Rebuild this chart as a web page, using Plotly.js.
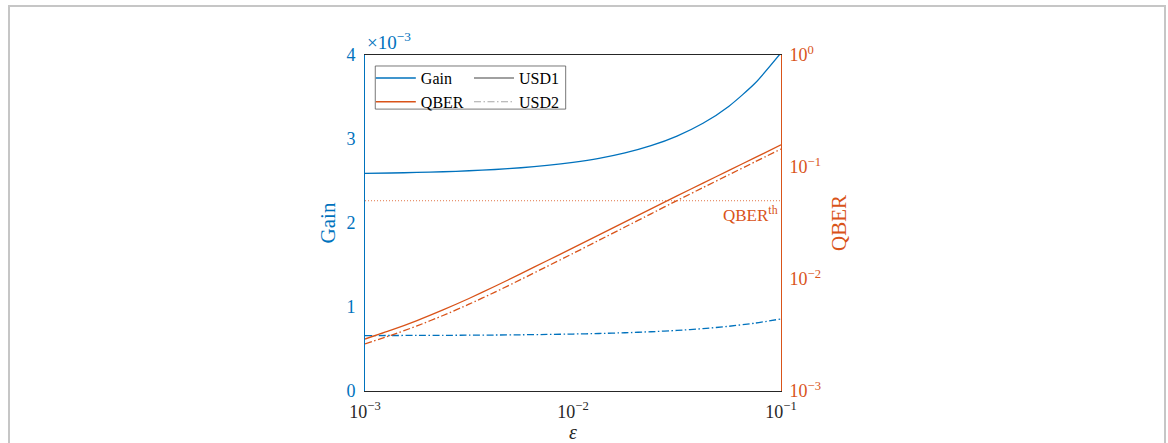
<!DOCTYPE html>
<html>
<head>
<meta charset="utf-8">
<script src="https://cdn.plot.ly/plotly-3.0.1.min.js"></script>
<style>
  html, body { margin: 0; padding: 0; background: #ffffff; overflow: hidden; }
  #chart { position: absolute; left: 0; top: 0; width: 1168px; height: 443px; }
  #frame { position: absolute; left: 8px; top: 5px; width: 1158px; height: 520px;
           box-sizing: border-box; border: 2px solid #c6c6c6; pointer-events: none; }
</style>
</head>
<body>
<div id="chart"></div>
<div id="frame"></div>
<script>
// ---- data ----
const epsilon  = [0.001, 0.001334, 0.001778, 0.002371, 0.003162, 0.004217, 0.005623, 0.007499, 0.01,
                  0.01334, 0.01778, 0.02371, 0.03162, 0.04217, 0.05623, 0.07499, 0.1];
// Gain (x 1e-3)
const gainUSD1 = [2.590, 2.595, 2.602, 2.610, 2.622, 2.637, 2.658, 2.685, 2.721,
                  2.769, 2.834, 2.920, 3.035, 3.187, 3.391, 3.663, 4.026];
const gainUSD2 = [0.660, 0.6607, 0.6616, 0.6627, 0.6643, 0.6664, 0.6692, 0.6730, 0.678,
                  0.6847, 0.6936, 0.7054, 0.7212, 0.7423, 0.7705, 0.8080, 0.858];
// QBER
const qberUSD1 = [0.002911, 0.003491, 0.004256, 0.005297, 0.006699, 0.008610, 0.01117, 0.01455, 0.01897,
                  0.02477, 0.03236, 0.04227, 0.05521, 0.07178, 0.09333, 0.1213, 0.1578];
const qberUSD2 = [0.002630, 0.003141, 0.003811, 0.004721, 0.005957, 0.007638, 0.009908, 0.01294, 0.01690,
                  0.02218, 0.02911, 0.03819, 0.05012, 0.06546, 0.08531, 0.1112, 0.1449];
const QBER_TH  = 0.05;
const xTickVals = [0.001, 0.01, 0.1];
const xTickText = ['10<sup>−3</sup>', '10<sup>−2</sup>', '10<sup>−1</sup>'];
const y2TickVals = [0.001, 0.01, 0.1, 1];
const y2TickText = ['10<sup>−3</sup>', '10<sup>−2</sup>', '10<sup>−1</sup>', '10<sup>0</sup>'];
const yTickVals = [0, 1, 2, 3, 4];

// ---- styling ----
const BLUE = '#0072BD';
const ORANGE = '#D95319';
const DARK = '#262626';
const FONT = 'Liberation Serif, DejaVu Serif, serif';
const DASHDOT = '7px,2.5px,1.5px,2.5px';
const LW = 1.3;

const traces = [
  { x: epsilon, y: gainUSD1, type: 'scatter', mode: 'lines', yaxis: 'y',
    line: { color: BLUE, width: LW, shape: 'spline', smoothing: 0.6 }, showlegend: false, hoverinfo: 'skip' },
  { x: epsilon, y: gainUSD2, type: 'scatter', mode: 'lines', yaxis: 'y',
    line: { color: BLUE, width: LW, dash: DASHDOT, shape: 'spline', smoothing: 0.6 }, showlegend: false, hoverinfo: 'skip' },
  { x: epsilon, y: qberUSD1, type: 'scatter', mode: 'lines', yaxis: 'y2',
    line: { color: ORANGE, width: LW, shape: 'spline', smoothing: 0.6 }, showlegend: false, hoverinfo: 'skip' },
  { x: epsilon, y: qberUSD2, type: 'scatter', mode: 'lines', yaxis: 'y2',
    line: { color: ORANGE, width: LW, dash: DASHDOT, shape: 'spline', smoothing: 0.6 }, showlegend: false, hoverinfo: 'skip' },
  { x: [epsilon[0], epsilon[epsilon.length - 1]], y: [QBER_TH, QBER_TH], type: 'scatter', mode: 'lines', yaxis: 'y2',
    line: { color: ORANGE, width: 0.8, dash: '1px,2px' }, showlegend: false, hoverinfo: 'skip' },
  // legend entries
  { x: [null], y: [null], type: 'scatter', mode: 'lines', name: 'Gain', legend: 'legend',
    line: { color: BLUE, width: 1.5 } },
  { x: [null], y: [null], type: 'scatter', mode: 'lines', name: 'QBER', legend: 'legend',
    line: { color: ORANGE, width: 1.5 } },
  { x: [null], y: [null], type: 'scatter', mode: 'lines', name: 'USD1', legend: 'legend2',
    line: { color: '#808080', width: 1.5 } },
  { x: [null], y: [null], type: 'scatter', mode: 'lines', name: 'USD2', legend: 'legend2',
    line: { color: '#a6a6a6', width: 1.2, dash: DASHDOT } }
];

const legendBase = {
  yref: 'paper', y: 0.982, yanchor: 'top', xanchor: 'left',
  bgcolor: 'rgba(0,0,0,0)', borderwidth: 0, tracegroupgap: 0,
  font: { family: FONT, size: 16, color: '#000000' }, itemwidth: 40
};

const layout = {
  width: 1168, height: 443,
  margin: { l: 365, r: 387, t: 55, b: 52, pad: 0 },
  paper_bgcolor: '#ffffff', plot_bgcolor: '#ffffff',
  font: { family: FONT, size: 18, color: DARK },
  showlegend: true,
  legend: Object.assign({}, legendBase, { x: 0.014 }),
  legend2: Object.assign({}, legendBase, { x: 0.250 }),
  xaxis: {
    type: 'log', range: [-3, -1], tickmode: 'array', tickvals: xTickVals, ticktext: xTickText,
    showline: true, linecolor: DARK, linewidth: 1, mirror: true, showgrid: false, zeroline: false,
    ticks: '', ticklabelstandoff: 4, tickfont: { family: FONT, size: 18, color: DARK },
    title: { text: '<i>ε</i>', font: { family: FONT, size: 20, color: DARK }, standoff: 8 },
    automargin: false
  },
  yaxis: {
    range: [0, 4], tickmode: 'array', tickvals: yTickVals,
    showline: true, linecolor: BLUE, linewidth: 1, showgrid: false, zeroline: false,
    ticks: '', ticklabelstandoff: 5, tickfont: { family: FONT, size: 18, color: BLUE },
    title: { text: 'Gain', font: { family: FONT, size: 21, color: BLUE }, standoff: 5 },
    automargin: false
  },
  yaxis2: {
    type: 'log', range: [-3, 0], overlaying: 'y', side: 'right',
    tickmode: 'array', tickvals: y2TickVals, ticktext: y2TickText,
    showline: true, linecolor: ORANGE, linewidth: 1, showgrid: false, zeroline: false,
    ticks: '', ticklabelstandoff: 4, tickfont: { family: FONT, size: 18, color: ORANGE },
    title: { text: 'QBER', font: { family: FONT, size: 21, color: ORANGE }, standoff: 11 },
    automargin: false
  },
  shapes: [
    { type: 'rect', xref: 'paper', yref: 'paper', x0: 0.0247, x1: 0.4824, y0: 0.839, y1: 0.9673,
      line: { color: '#555555', width: 0.8 }, fillcolor: 'rgba(0,0,0,0)' }
  ],
  annotations: [
    { xref: 'paper', yref: 'paper', x: 0, y: 1, xanchor: 'left', yanchor: 'bottom', yshift: 0,
      text: '×10<sup>−3</sup>', showarrow: false, font: { family: FONT, size: 19, color: BLUE } },
    { xref: 'paper', yref: 'y2', x: 1, y: Math.log10(QBER_TH), xanchor: 'right', yanchor: 'top', xshift: -1,
      text: 'QBER<sup>th</sup>', showarrow: false, font: { family: FONT, size: 17, color: ORANGE } }
  ]
};

Plotly.newPlot('chart', traces, layout, { staticPlot: true, displayModeBar: false });
</script>
</body>
</html>
